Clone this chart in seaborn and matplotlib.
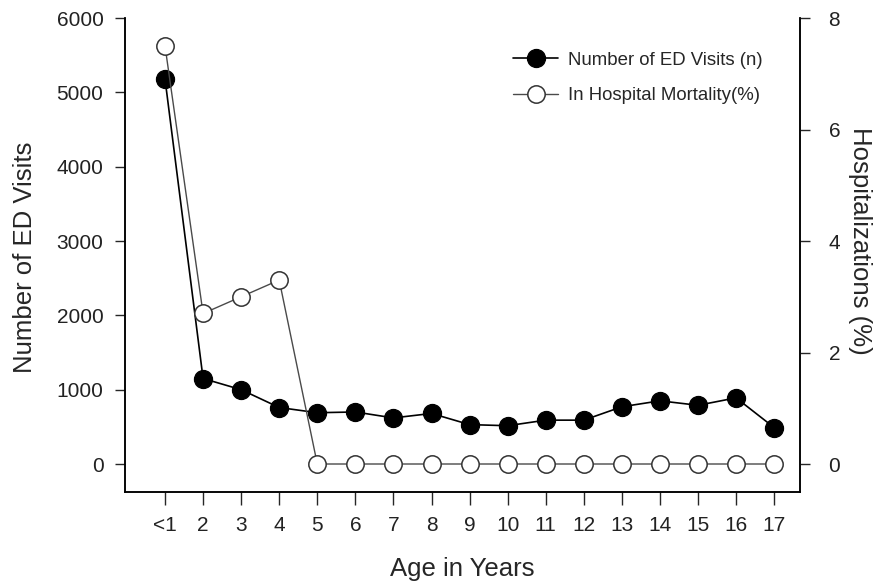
import numpy as np
import pandas as pd
import seaborn as sns
import matplotlib
matplotlib.use('Agg')
import matplotlib.pyplot as plt

ages = ['<1', '2', '3', '4', '5', '6', '7', '8', '9', '10', '11', '12', '13', '14', '15', '16', '17']
ed_visits = [5180, 1150, 1000, 760, 690, 700, 620, 680, 530, 515, 590, 590, 770, 850, 790, 890, 490]
mortality = [7.5, 2.7, 3.0, 3.3, 0, 0, 0, 0, 0, 0, 0, 0, 0, 0, 0, 0, 0]

df = pd.DataFrame({'age': ages, 'visits': ed_visits, 'mortality': mortality})

sns.set_style('ticks')
plt.rcParams['font.family'] = ['Liberation Sans', 'DejaVu Sans']

fig = plt.figure(figsize=(8.78, 5.82), dpi=100)
ax = fig.add_axes([0.1424, 0.1546, 0.7688, 0.8144])
ax2 = ax.twinx()

sns.pointplot(data=df, x='age', y='visits', order=ages, ax=ax, color='black',
              markers='o', linestyles='-', markersize=13, linewidth=1.2,
              markerfacecolor='black', markeredgecolor='black', errorbar=None)
sns.pointplot(data=df, x='age', y='mortality', order=ages, ax=ax2, color='#4a4a4a',
              markers='o', linestyles='-', markersize=12.5, linewidth=1.0,
              markerfacecolor='white', markeredgecolor='#333333', markeredgewidth=1.1,
              errorbar=None)

n = len(ages)
for a in (ax, ax2):
    a.set_xlim(-1.05, n - 1 + 0.68)
ax.set_ylim(-377, 6000)
ax.set_yticks([0, 1000, 2000, 3000, 4000, 5000, 6000])
ax2.set_ylim(-8 * 377 / 6000, 8)
ax2.set_yticks([0, 2, 4, 6, 8])

for a in (ax, ax2):
    for s in a.spines.values():
        s.set_linewidth(1.1)
        s.set_color('black')
    a.spines['top'].set_visible(False)

ax.tick_params(axis='y', direction='out', length=7, width=1, pad=8.5, labelsize=15, labelcolor='#222222')
ax.tick_params(axis='x', direction='out', length=9, width=1, pad=8, labelsize=15, labelcolor='#222222')
ax2.tick_params(axis='y', direction='out', length=7, width=1, pad=13.5, labelsize=15, labelcolor='#222222')

ax.set_xlabel('Age in Years', fontsize=18.5)
ax.xaxis.set_label_coords(0.5, -0.1624)
ax.xaxis.label.set_va('center')
ax.set_ylabel('Number of ED Visits', fontsize=18.5)
ax.yaxis.set_label_coords(-0.148, 0.496)
ax.yaxis.label.set_va('center')
ax2.set_ylabel('Hospitalizations (%)', fontsize=18.5, rotation=270)
ax2.yaxis.set_label_coords(1.089, 0.53)
ax2.yaxis.label.set_va('center')
ax2.yaxis.label.set_ha('center')

h1 = ax.lines[0]
h2 = ax2.lines[0]
ax2.legend([h1, h2], ['Number of ED Visits (n)', 'In Hospital Mortality(%)'],
           loc='upper right', bbox_to_anchor=(0.956, 0.945), borderaxespad=0,
           frameon=False, fontsize=13.4, handlelength=2.4, labelspacing=1.0,
           handletextpad=0.55)

fig.savefig('out.png', dpi=100)
